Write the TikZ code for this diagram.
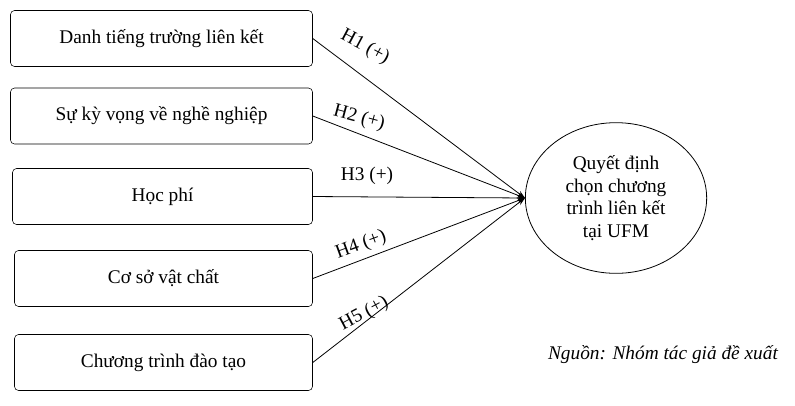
\documentclass[tikz,border=0pt]{standalone}
\usepackage{fontspec}
\setmainfont{Liberation Serif}
\usetikzlibrary{arrows.meta,shapes.geometric}
\tikzset{
  factor/.style={draw,rounded corners=3pt,minimum width=226.5pt,minimum height=42pt,font=\fontsize{14.5}{17}\selectfont},
  hyp/.style={-{Stealth[length=6pt,width=4pt]},line width=0.6pt},
  hlab/.style={font=\fontsize{14.5}{17}\selectfont,inner sep=1pt}
}
\begin{document}
\begin{tikzpicture}[x=0.75pt,y=0.75pt,yscale=-1,xscale=1]
\useasboundingbox (0,0) rectangle (795,405);

%Factors
\node[factor] (f1) at (161.5,38.5) {Danh tiếng trường liên kết};
\node[factor] (f2) at (161.5,116) {Sự kỳ vọng về nghề nghiệp};
\node[factor,minimum width=225pt] (f3) at (162.5,196.5) {Học phí};
\node[factor,minimum width=223.5pt] (f4) at (163.5,278.5) {Cơ sở vật chất};
\node[factor,minimum width=223.5pt] (f5) at (163.5,362.5) {Chương trình đào tạo};

%Decision
\node[draw,ellipse,line width=0.6pt,minimum width=136pt,minimum height=113pt,align=center,
  font=\fontsize{14.5}{17}\selectfont,inner sep=0pt] (dec) at (616,198)
  {Quyết định\\chọn chương\\trình liên kết\\tại UFM};
\coordinate (meet) at (dec.west);

%Hypotheses
\draw[hyp] (f1.east) -- (meet);
\draw[hyp] (f2.east) -- (meet);
\draw[hyp] (f3.east) -- (meet);
\draw[hyp] (f4.east) -- (meet);
\draw[hyp] (f5.east) -- (meet);
\node[hlab,rotate=-28] (h1) at (365,47) {H1 (+)};
\node[hlab,rotate=-15] (h2) at (359,118) {H2 (+)};
\node[hlab] (h3) at (367,176) {H3 (+)};
\node[hlab,rotate=20] (h4) at (361,245) {H4 (+)};
\node[hlab,rotate=28] (h5) at (364,314) {H5 (+)};

\node[font=\fontsize{14.5}{17}\selectfont\itshape] (src) at (663,355) {Nguồn: Nhóm tác giả đề xuất};
\end{tikzpicture}
\end{document}
